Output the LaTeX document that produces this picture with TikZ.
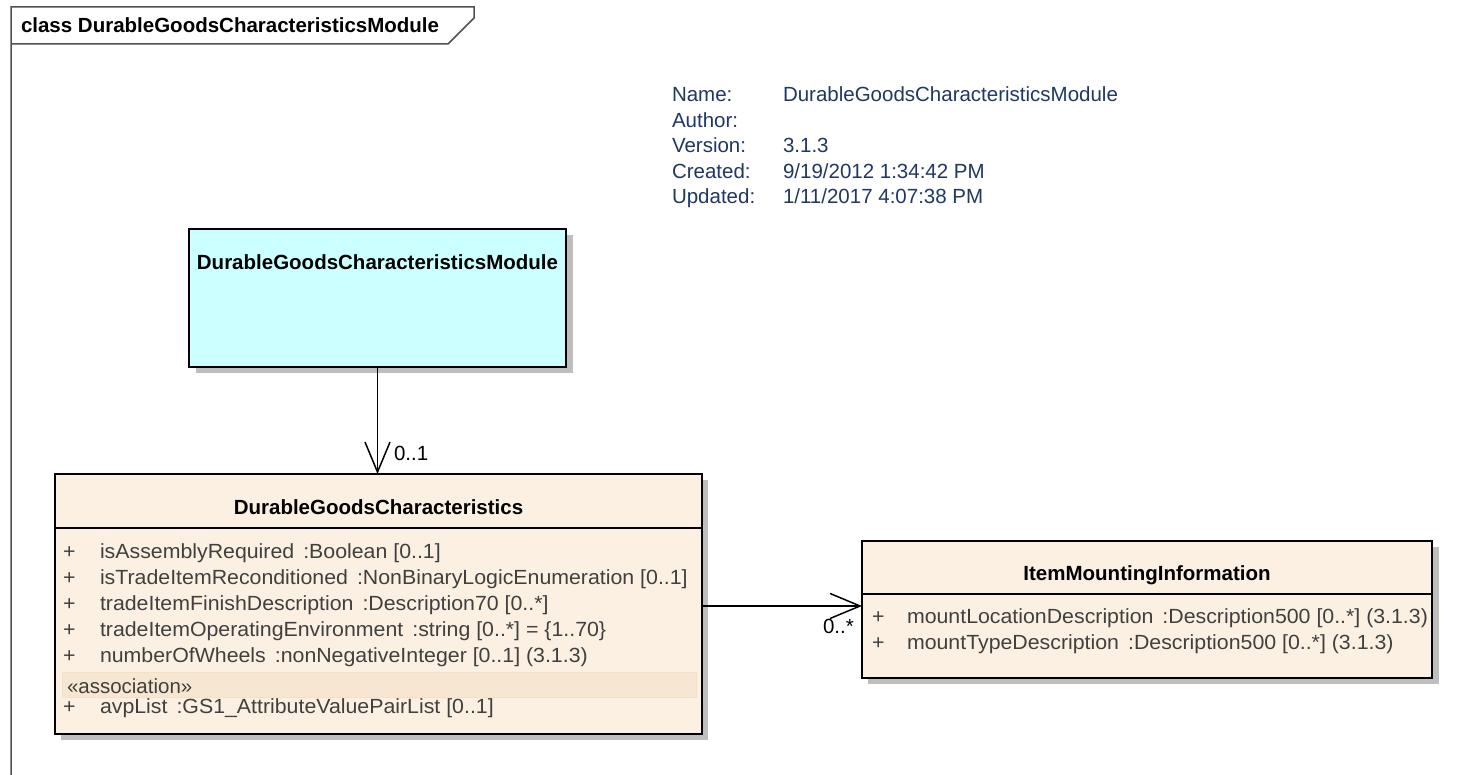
\documentclass[tikz,border=0pt]{standalone}
\usepackage{fontspec}
\setmainfont{Liberation Sans}
\newfontfamily\attrfont{Liberation Sans}[FakeStretch=1.04]
\usetikzlibrary{arrows.meta}
\definecolor{classfill}{RGB}{251,240,225}
\definecolor{modfill}{RGB}{204,255,255}
\definecolor{bandfill}{RGB}{247,231,210}
\definecolor{bandline}{RGB}{243,224,198}
\definecolor{shadowc}{RGB}{190,190,190}
\definecolor{attrc}{RGB}{64,64,64}
\definecolor{metac}{RGB}{31,56,100}
\definecolor{framec}{RGB}{80,80,80}
\begin{document}
\begin{tikzpicture}[x=1pt,y=-1pt,
  txt/.style={inner sep=0pt, outer sep=0pt, anchor=base west, font=\fontsize{20.5}{24}\selectfont},
  attr/.style={txt, text=attrc, font=\fontsize{20.5}{24}\attrfont},
  ttl/.style={inner sep=0pt, outer sep=0pt, anchor=base, font=\fontsize{20.5}{24}\selectfont\bfseries},
  meta/.style={txt, text=metac},
  box/.style={draw=black, line width=2pt, inner sep=0pt, outer sep=0pt, anchor=north west},
  shadowbox/.style={fill=shadowc, draw=none},
  sepline/.style={draw=black, line width=1.5pt},
  conn/.style={draw=black, line width=1.5pt, -{Straight Barb[length=30pt,width=25pt,line width=1.5pt]}},
  mult/.style={txt, text=black}
]
\useasboundingbox (0,0) rectangle (1458,775);
\fill[white] (0,0) rectangle (1458,775);

% frame
\draw[framec, line width=1.5pt] (11,775) -- (11,7) -- (474,7) -- (474,18) -- (448,44) -- (11,44);
\node[ttl, anchor=base west] (frametitle) at (21,33) {class DurableGoodsCharacteristicsModule};

% metadata
\node[meta] (mn1) at (672,102) {Name:};
\node[meta] (mv1) at (783,102) {DurableGoodsCharacteristicsModule};
\node[meta] (mn2) at (672,127.5) {Author:};
\node[meta] (mn3) at (672,153) {Version:};
\node[meta] (mv3) at (783,153) {3.1.3};
\node[meta] (mn4) at (672,178.5) {Created:};
\node[meta] (mv4) at (783,178.5) {9/19/2012 1:34:42 PM};
\node[meta] (mn5) at (672,204) {Updated:};
\node[meta] (mv5) at (783,204) {1/11/2017 4:07:38 PM};

% module box
\fill[shadowbox] (196,235) rectangle (573,373);
\node[box, fill=modfill, minimum width=377pt, minimum height=138pt] (mod) at (189,229) {};
\node[ttl] (modtitle) at (377.5,270) {DurableGoodsCharacteristicsModule};

% DurableGoodsCharacteristics
\fill[shadowbox] (61,480) rectangle (708,740);
\node[box, fill=classfill, minimum width=647pt, minimum height=260pt] (dgc) at (55,474) {};
\node[ttl] (dgctitle) at (378.5,514) {DurableGoodsCharacteristics};
\draw[sepline] (55,528) -- (702,528);
\node[attr] (p1) at (63,558) {+};
\node[attr] (t1) at (100,558) {isAssemblyRequired\hspace{9pt}:Boolean [0..1]};
\node[attr] (p2) at (63,584) {+};
\node[attr] (t2) at (100,584) {isTradeItemReconditioned\hspace{9pt}:NonBinaryLogicEnumeration [0..1]};
\node[attr] (p3) at (63,610) {+};
\node[attr] (t3) at (100,610) {tradeItemFinishDescription\hspace{9pt}:Description70 [0..*]};
\node[attr] (p4) at (63,636) {+};
\node[attr] (t4) at (100,636) {tradeItemOperatingEnvironment\hspace{9pt}:string [0..*] = \{1..70\}};
\node[attr] (p5) at (63,662) {+};
\node[attr] (t5) at (100,662) {numberOfWheels\hspace{9pt}:nonNegativeInteger [0..1] (3.1.3)};
\filldraw[fill=bandfill, draw=bandline, line width=0.8pt] (62,672) rectangle (696,697);
\node[txt, text=attrc] (assoc) at (67,693) {«association»};
\node[attr] (p6) at (63,713) {+};
\node[attr] (t6) at (100,713) {avpList\hspace{9pt}:GS1\_AttributeValuePairList [0..1]};

% ItemMountingInformation
\fill[shadowbox] (868,547) rectangle (1439,684);
\node[box, fill=classfill, minimum width=570pt, minimum height=137pt] (imi) at (862,541) {};
\node[ttl] (imititle) at (1147,580) {ItemMountingInformation};
\draw[sepline] (862,594) -- (1432,594);
\node[attr] (q1) at (872,623) {+};
\node[attr] (u1) at (907,623) {mountLocationDescription\hspace{9pt}:Description500 [0..*] (3.1.3)};
\node[attr] (q2) at (872,649) {+};
\node[attr] (u2) at (907,649) {mountTypeDescription\hspace{9pt}:Description500 [0..*] (3.1.3)};

% connectors
\coordinate (ay) at (0,606);
\draw[conn] (mod.south) -- (mod.south |- dgc.north);
\node[mult] (m1) at (394,460) {0..1};
\draw[conn] (dgc.east |- ay) -- (imi.west |- ay);
\node[mult] (m2) at (823,633) {0..*};
\end{tikzpicture}
\end{document}
